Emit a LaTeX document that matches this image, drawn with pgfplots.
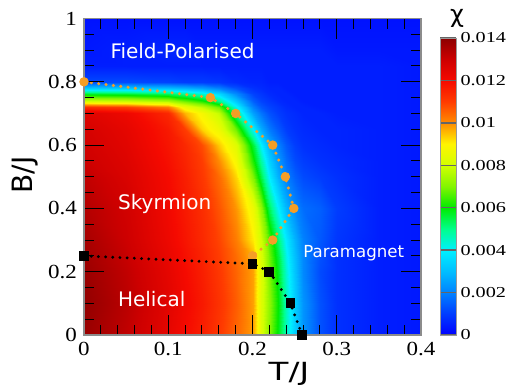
\documentclass[border=0pt]{standalone}
\usepackage{pgfplots}
\pgfplotsset{compat=1.18}
\usepackage{fontspec}
\setmainfont{DejaVu Sans}
\newfontfamily\tickfont[FakeStretch=1.15]{Liberation Serif}
\newfontfamily\cbfont[FakeStretch=1.33]{Liberation Serif}
\newfontfamily\labwide[FakeStretch=1.3]{DejaVu Sans}
\definecolor{orangeM}{RGB}{245,158,38}
\begin{document}
\begin{tikzpicture}
\path[use as bounding box] (-42pt,-27.5pt) rectangle (216.5pt,167.5pt);
\begin{axis}[
  at={(0,0)}, anchor=south west,
  scale only axis, width=168.5pt, height=158.25pt,
  xmin=0, xmax=0.4, ymin=0, ymax=1,
  enlargelimits=false, axis on top, clip=false,
  xtick={0,0.1,0.2,0.3,0.4}, xticklabels={0,0.1,0.2,0.3,0.4},
  ytick={0,0.2,0.4,0.6,0.8,1}, yticklabels={0,0.2,0.4,0.6,0.8,1},
  minor x tick num=4, minor y tick num=3,
  xtick pos=both, ytick pos=both, tick align=inside,
  xticklabel pos=bottom, yticklabel pos=left,
  major tick length=10pt, minor tick length=5pt,
  tick style={black, line width=0.5pt},
  axis line style={draw=black!45, line width=0.9pt},
  tick label style={font=\tickfont\fontsize{10}{12}\selectfont},
  xlabel={T/J}, xlabel style={at={(axis description cs:0.608,-0.123)}, anchor=center, font=\labwide\fontsize{12.5}{14}\selectfont},
  ylabel={B/J}, ylabel style={at={(axis description cs:-0.174,0.506)}, anchor=center, font=\fontsize{14}{16}\selectfont},
  colormap={chi}{rgb255(0cm)=(0,0,255); rgb255(1cm)=(0,60,255); rgb255(2cm)=(0,130,255); rgb255(3cm)=(0,190,255); rgb255(4cm)=(0,240,255); rgb255(5cm)=(0,255,140); rgb255(6cm)=(0,235,0); rgb255(7cm)=(130,245,0); rgb255(8cm)=(210,255,0); rgb255(9cm)=(255,245,0); rgb255(10cm)=(255,140,0); rgb255(11cm)=(255,60,0); rgb255(12cm)=(245,10,0); rgb255(13cm)=(205,0,0); rgb255(14cm)=(140,0,0)},
  point meta min=0, point meta max=14,
  colorbar,
  colorbar style={
    at={(parent axis.south east)}, anchor=south west, xshift=1pt,
    scale only axis, width=8pt, height=148.5pt,
    ytick={0,2,4,6,8,10,12,14},
    yticklabels={0,0.002,0.004,0.006,0.008,0.01,0.012,0.014},
    yticklabel style={font=\cbfont\fontsize{7.6}{8}\selectfont, xshift=-1.3pt},
    major tick length=8pt,
    tick style={black!60, line width=0.7pt},
    axis line style={draw=black!40},
    title={\fontsize{12}{13}\selectfont χ},
    title style={at={(0.5,1)}, anchor=center, xshift=4.5pt, yshift=4pt},
  },
]
\addplot[surf, shader=interp, mesh/cols=18, point meta=explicit] table[x=T, y=B, meta=c] {
T B c
0 0 13.8
0.05 0 13.2
0.1 0 12.4
0.12 0 12.0
0.14 0 11.6
0.16 0 11.1
0.18 0 10.5
0.2 0 9.8
0.21 0 8.3
0.22 0 7.1
0.23 0 5.9
0.24 0 4.6
0.25 0 3.3
0.26 0 2.3
0.28 0 1.3
0.3 0 0.8
0.35 0 0.5
0.4 0 0.4

0 0.1 13.9
0.05 0.1 13.3
0.1 0.1 12.5
0.12 0.1 12.1
0.14 0.1 11.7
0.16 0.1 11.2
0.18 0.1 10.6
0.2 0.1 9.8
0.21 0.1 8.3
0.22 0.1 7.2
0.23 0.1 6.0
0.24 0.1 4.6
0.25 0.1 3.3
0.26 0.1 2.3
0.28 0.1 1.3
0.3 0.1 0.8
0.35 0.1 0.5
0.4 0.1 0.4

0 0.2 13.8
0.05 0.2 13.2
0.1 0.2 12.4
0.12 0.2 12.0
0.14 0.2 11.6
0.16 0.2 11.1
0.18 0.2 10.5
0.2 0.2 9.8
0.21 0.2 8.3
0.22 0.2 7.0
0.23 0.2 5.8
0.24 0.2 4.4
0.25 0.2 3.1
0.26 0.2 2.1
0.28 0.2 1.2
0.3 0.2 0.8
0.35 0.2 0.5
0.4 0.2 0.4

0 0.25 13.7
0.05 0.25 13.1
0.1 0.25 12.3
0.12 0.25 11.9
0.14 0.25 11.5
0.16 0.25 11.0
0.18 0.25 10.4
0.2 0.25 9.6
0.21 0.25 8.2
0.22 0.25 6.9
0.23 0.25 5.6
0.24 0.25 4.2
0.25 0.25 3.0
0.26 0.25 2.1
0.28 0.25 1.3
0.3 0.25 0.8
0.35 0.25 0.5
0.4 0.25 0.4

0 0.3 13.6
0.05 0.3 13.0
0.1 0.3 12.2
0.12 0.3 11.8
0.14 0.3 11.4
0.16 0.3 10.9
0.18 0.3 10.2
0.2 0.3 9.1
0.21 0.3 8.0
0.22 0.3 6.6
0.23 0.3 5.2
0.24 0.3 3.9
0.25 0.3 2.8
0.26 0.3 2.0
0.28 0.3 1.4
0.3 0.3 0.9
0.35 0.3 0.5
0.4 0.3 0.4

0 0.4 13.4
0.05 0.4 12.9
0.1 0.4 12.1
0.12 0.4 11.7
0.14 0.4 11.3
0.16 0.4 10.7
0.18 0.4 9.9
0.2 0.4 8.6
0.21 0.4 7.2
0.22 0.4 5.4
0.23 0.4 4.0
0.24 0.4 2.9
0.25 0.4 2.1
0.26 0.4 1.7
0.28 0.4 1.5
0.3 0.4 1.0
0.35 0.4 0.5
0.4 0.4 0.4

0 0.5 13.2
0.05 0.5 12.7
0.1 0.5 12.0
0.12 0.5 11.6
0.14 0.5 11.1
0.16 0.5 10.4
0.18 0.5 9.3
0.2 0.5 7.0
0.21 0.5 5.5
0.22 0.5 4.0
0.23 0.5 2.8
0.24 0.5 2.0
0.25 0.5 1.5
0.26 0.5 1.2
0.28 0.5 1.0
0.3 0.5 0.8
0.35 0.5 0.5
0.4 0.5 0.4

0 0.55 13.0
0.05 0.55 12.6
0.1 0.55 11.9
0.12 0.55 11.5
0.14 0.55 11.0
0.16 0.55 10.0
0.18 0.55 8.8
0.2 0.55 6.2
0.21 0.55 4.8
0.22 0.55 3.4
0.23 0.55 2.4
0.24 0.55 1.7
0.25 0.55 1.2
0.26 0.55 1.0
0.28 0.55 0.8
0.3 0.55 0.7
0.35 0.55 0.5
0.4 0.55 0.4

0 0.6 12.9
0.05 0.6 12.5
0.1 0.6 11.8
0.12 0.6 11.4
0.14 0.6 10.8
0.16 0.6 9.4
0.18 0.6 8.3
0.2 0.6 5.6
0.21 0.6 4.0
0.22 0.6 2.8
0.23 0.6 2.0
0.24 0.6 1.4
0.25 0.6 1.0
0.26 0.6 0.8
0.28 0.6 0.7
0.3 0.6 0.6
0.35 0.6 0.5
0.4 0.6 0.4

0 0.65 12.8
0.05 0.65 12.4
0.1 0.65 11.7
0.12 0.65 11.0
0.14 0.65 9.3
0.16 0.65 8.6
0.18 0.65 6.8
0.2 0.65 4.0
0.21 0.65 2.7
0.22 0.65 1.9
0.23 0.65 1.4
0.24 0.65 1.0
0.25 0.65 0.8
0.26 0.65 0.7
0.28 0.65 0.6
0.3 0.65 0.6
0.35 0.65 0.5
0.4 0.65 0.4

0 0.7 12.6
0.05 0.7 12.2
0.1 0.7 11.4
0.12 0.7 9.6
0.14 0.7 8.8
0.16 0.7 7.8
0.18 0.7 5.0
0.2 0.7 2.5
0.21 0.7 1.8
0.22 0.7 1.3
0.23 0.7 1.0
0.24 0.7 0.8
0.25 0.7 0.7
0.26 0.7 0.6
0.28 0.7 0.6
0.3 0.7 0.5
0.35 0.7 0.5
0.4 0.7 0.4

0 0.72 11.3
0.05 0.72 11.0
0.1 0.72 10.2
0.12 0.72 8.6
0.14 0.72 7.8
0.16 0.72 6.8
0.18 0.72 4.2
0.2 0.72 2.0
0.21 0.72 1.4
0.22 0.72 1.1
0.23 0.72 0.9
0.24 0.72 0.7
0.25 0.72 0.6
0.26 0.72 0.6
0.28 0.72 0.5
0.3 0.72 0.5
0.35 0.72 0.5
0.4 0.72 0.4

0 0.74 8.0
0.05 0.74 7.9
0.1 0.74 7.5
0.12 0.74 6.8
0.14 0.74 6.2
0.16 0.74 5.0
0.18 0.74 3.2
0.2 0.74 1.5
0.21 0.74 1.1
0.22 0.74 0.9
0.23 0.74 0.7
0.24 0.74 0.6
0.25 0.74 0.6
0.26 0.74 0.5
0.28 0.74 0.5
0.3 0.74 0.5
0.35 0.74 0.5
0.4 0.74 0.4

0 0.76 5.8
0.05 0.76 5.7
0.1 0.76 5.4
0.12 0.76 5.0
0.14 0.76 4.5
0.16 0.76 3.6
0.18 0.76 2.2
0.2 0.76 1.1
0.21 0.76 0.9
0.22 0.76 0.7
0.23 0.76 0.6
0.24 0.76 0.6
0.25 0.76 0.5
0.26 0.76 0.5
0.28 0.76 0.5
0.3 0.76 0.5
0.35 0.76 0.5
0.4 0.76 0.4

0 0.78 3.2
0.05 0.78 3.2
0.1 0.78 3.0
0.12 0.78 2.8
0.14 0.78 2.5
0.16 0.78 2.0
0.18 0.78 1.3
0.2 0.78 0.8
0.21 0.78 0.7
0.22 0.78 0.6
0.23 0.78 0.6
0.24 0.78 0.5
0.25 0.78 0.5
0.26 0.78 0.5
0.28 0.78 0.5
0.3 0.78 0.5
0.35 0.78 0.5
0.4 0.78 0.4

0 0.8 1.2
0.05 0.8 1.2
0.1 0.8 1.1
0.12 0.8 1.0
0.14 0.8 1.0
0.16 0.8 0.9
0.18 0.8 0.7
0.2 0.8 0.6
0.21 0.8 0.6
0.22 0.8 0.5
0.23 0.8 0.5
0.24 0.8 0.5
0.25 0.8 0.5
0.26 0.8 0.5
0.28 0.8 0.5
0.3 0.8 0.5
0.35 0.8 0.5
0.4 0.8 0.4

0 0.85 0.5
0.05 0.85 0.5
0.1 0.85 0.5
0.12 0.85 0.5
0.14 0.85 0.5
0.16 0.85 0.5
0.18 0.85 0.5
0.2 0.85 0.5
0.21 0.85 0.5
0.22 0.85 0.5
0.23 0.85 0.5
0.24 0.85 0.5
0.25 0.85 0.5
0.26 0.85 0.5
0.28 0.85 0.5
0.3 0.85 0.5
0.35 0.85 0.5
0.4 0.85 0.4

0 0.9 0.4
0.05 0.9 0.5
0.1 0.9 0.6
0.12 0.9 0.6
0.14 0.9 0.5
0.16 0.9 0.5
0.18 0.9 0.5
0.2 0.9 0.5
0.21 0.9 0.5
0.22 0.9 0.5
0.23 0.9 0.5
0.24 0.9 0.5
0.25 0.9 0.5
0.26 0.9 0.5
0.28 0.9 0.5
0.3 0.9 0.4
0.35 0.9 0.4
0.4 0.9 0.4

0 1 0.3
0.05 1 0.3
0.1 1 0.3
0.12 1 0.3
0.14 1 0.3
0.16 1 0.3
0.18 1 0.3
0.2 1 0.3
0.21 1 0.3
0.22 1 0.3
0.23 1 0.3
0.24 1 0.3
0.25 1 0.3
0.26 1 0.3
0.28 1 0.3
0.3 1 0.3
0.35 1 0.3
0.4 1 0.3
};
\addplot[color=orangeM, line width=1.7pt, line cap=round, dash pattern=on 0pt off 3.7pt, mark=*, mark size=2.1pt, mark options={solid, fill=orangeM, draw=orangeM, line width=0.5pt}] coordinates {(0,0.8) (0.15,0.75) (0.18,0.7) (0.224,0.6) (0.239,0.5) (0.249,0.4) (0.224,0.3) (0.2,0.25)};
\addplot[black, line width=1.6pt, line cap=round, dash pattern=on 0pt off 3.6pt, mark=square*, mark size=2.2pt, mark options={solid, line width=0.5pt}] coordinates {(0,0.25) (0.2,0.225) (0.22,0.2) (0.245,0.1) (0.259,0)};
\node[anchor=west, inner sep=0pt, white, font=\fontsize{10}{12}\selectfont] at (axis cs:0.031,0.896) {Field-Polarised};
\node[anchor=west, inner sep=0pt, white, font=\fontsize{10}{12}\selectfont] at (axis cs:0.040,0.415) {Skyrmion};
\node[anchor=west, inner sep=0pt, white, font=\fontsize{10}{12}\selectfont] at (axis cs:0.040,0.114) {Helical};
\node[anchor=west, inner sep=0pt, white, font=\fontsize{8.3}{10}\selectfont] at (axis cs:0.26,0.26) {Paramagnet};
\end{axis}
\end{tikzpicture}
\end{document}
